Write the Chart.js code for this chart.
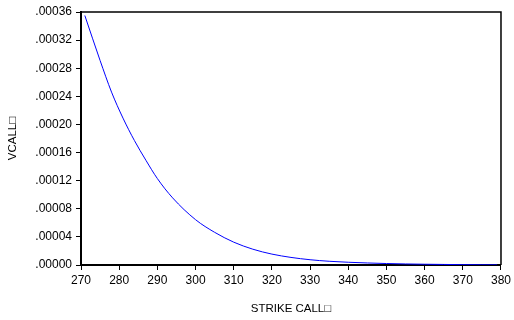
<!DOCTYPE html>
<html>
<head>
<meta charset="utf-8">
<script src="https://cdn.jsdelivr.net/npm/chart.js@4/dist/chart.umd.min.js"></script>
<style>
  body { margin: 0; background: #fff; }
  canvas { display: block; }
</style>
</head>
<body>
<canvas id="vcallChart" width="514" height="320"></canvas>
<script>
// Values
const strikes = [271, 275, 278, 281, 284, 287, 290, 294, 300, 305, 310, 315, 320, 325, 330, 335, 340, 345, 350, 355, 360, 365, 370, 375, 379];
const vcall = [0.000355, 0.000291, 0.000246, 0.000209, 0.000177, 0.000149, 0.000123, 0.0000955, 0.0000645, 0.0000465, 0.0000325, 0.0000225, 0.0000155, 0.0000108, 0.0000075, 0.0000053, 0.0000039, 0.0000029, 0.0000021, 0.0000015, 0.0000011, 0.0000008, 0.0000005, 0.0000003, 0.0000002];
const xTicks = [270, 280, 290, 300, 310, 320, 330, 340, 350, 360, 370, 380];
const yTicks = [0, 0.00004, 0.00008, 0.00012, 0.00016, 0.00020, 0.00024, 0.00028, 0.00032, 0.00036];

const font = { family: 'Liberation Sans, Arial, sans-serif', size: 12 };

// box lines on top and right of the plot
const frame = {
    id: 'frame',
    afterDraw(chart) {
        const { ctx, chartArea: a } = chart;
        ctx.save();
        ctx.strokeStyle = '#000';
        ctx.lineWidth = 1.5;
        ctx.beginPath();
        ctx.moveTo(a.left, a.top);
        ctx.lineTo(a.right, a.top);
        ctx.lineTo(a.right, a.bottom);
        ctx.stroke();
        ctx.restore();
    }
};

const ctx = document.getElementById('vcallChart').getContext('2d');
new Chart(ctx, {
    type: 'line',
    data: {
        datasets: [{
            data: strikes.map((s, i) => ({ x: s, y: vcall[i] })),
            borderColor: '#0000ff',
            borderWidth: 1,
            pointRadius: 0,
            cubicInterpolationMode: 'monotone',
            fill: false
        }]
    },
    options: {
        responsive: false,
        animation: false,
        layout: { padding: { top: 12, right: 10, left: 0, bottom: 0 } },
        plugins: { legend: { display: false }, tooltip: { enabled: false } },
        scales: {
            x: {
                type: 'linear',
                min: 270,
                max: 380,
                afterBuildTicks: s => { s.ticks = xTicks.map(v => ({ value: v })); },
                afterFit: s => { s.height = 55; },
                grid: { drawOnChartArea: false, drawTicks: true, tickLength: 5, color: '#000', lineWidth: 1 },
                border: { display: true, color: '#000', width: 2 },
                ticks: { color: '#000', font: font, padding: 3, maxRotation: 0, autoSkip: false },
                title: { display: true, text: 'STRIKE CALL\u25A1', color: '#000', font: { family: font.family, size: 11.5 }, padding: { top: 0, bottom: 4 } }
            },
            y: {
                min: 0,
                max: 0.00036,
                afterBuildTicks: s => { s.ticks = yTicks.map(v => ({ value: v })); },
                afterFit: s => { s.width = 81; },
                grid: { drawOnChartArea: false, drawTicks: true, tickLength: 5, color: '#000', lineWidth: 1 },
                border: { display: true, color: '#000', width: 2 },
                ticks: {
                    color: '#000', font: font, padding: 4, autoSkip: false,
                    callback: v => v.toFixed(5).replace(/^0/, '')
                },
                title: { display: true, text: 'VCALL\u25A1', color: '#000', font: { family: font.family, size: 11.5 }, padding: { top: 6, bottom: 0 } }
            }
        }
    },
    plugins: [frame]
});
</script>
</body>
</html>
